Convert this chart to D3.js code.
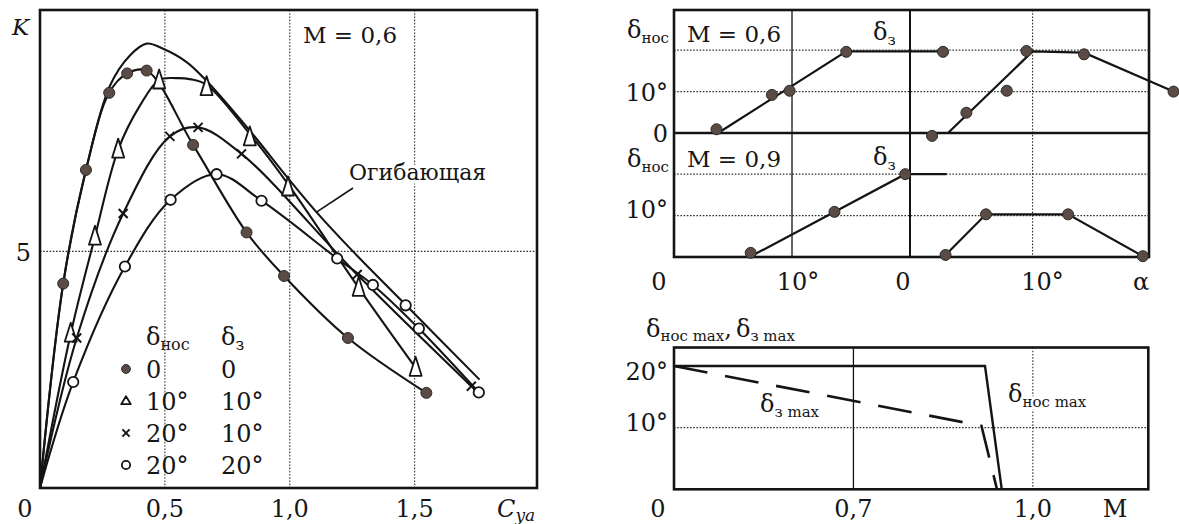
<!DOCTYPE html>
<html>
<head>
<meta charset="utf-8">
<script src="https://cdn.jsdelivr.net/npm/d3@7"></script>
<style>
  body { margin: 0; background: #fff; }
  text { font-family: "DejaVu Serif", "Liberation Serif", serif; fill: #161616; }
</style>
</head>
<body>
<svg id="chart" width="1179" height="524"></svg>
<script>
// ---- K(Cya) at M = 0.6 ----
const kTicksX = [0.5, 1.0, 1.5];
const kTickLabelsX = ['0,5', '1,0', '1,5'];
const kTicksY = [5];

const dotPts = [[0.093, 4.32], [0.184, 6.72], [0.277, 8.35], [0.349, 8.76], [0.427, 8.82],
  [0.613, 7.25], [0.827, 5.40], [0.977, 4.48], [1.233, 3.17], [1.547, 2.01]];
const dotCurve = [[0, 0], [0.093, 4.32], [0.184, 6.72], [0.277, 8.35], [0.349, 8.76], [0.427, 8.82],
  [0.613, 7.25], [0.827, 5.40], [0.977, 4.48], [1.233, 3.17], [1.547, 2.01]];

const triPts = [[0.123, 3.26], [0.22, 5.31], [0.313, 7.15], [0.477, 8.61], [0.667, 8.47],
  [0.84, 7.41], [0.993, 6.35], [1.276, 4.23], [1.504, 2.54]];
const triCurve = [[0, 0], [0.123, 3.26], [0.22, 5.31], [0.313, 7.15], [0.40, 8.08], [0.477, 8.62],
  [0.547, 8.66], [0.6, 8.64], [0.667, 8.52], [0.84, 7.48], [0.993, 6.42], [1.276, 4.23], [1.504, 2.54]];

const crossPts = [[0.147, 3.17], [0.333, 5.8], [0.52, 7.43], [0.633, 7.62], [0.807, 7.06],
  [1.27, 4.51], [1.727, 2.15]];
const crossCurve = [[0, 0], [0.147, 3.17], [0.333, 5.8], [0.52, 7.43], [0.633, 7.62], [0.807, 7.06],
  [1.27, 4.51], [1.727, 2.15]];

const ringPts = [[0.133, 2.24], [0.34, 4.68], [0.523, 6.09], [0.707, 6.63], [0.887, 6.07],
  [1.19, 4.85], [1.333, 4.29], [1.464, 3.86], [1.517, 3.37], [1.757, 2.02]];
const ringCurve = [[0, 0], [0.133, 2.24], [0.34, 4.68], [0.523, 6.09], [0.707, 6.63], [0.887, 6.07],
  [1.19, 4.85], [1.333, 4.29], [1.517, 3.37], [1.757, 2.02]];

const envelopeCurve = [[0, 0], [0.093, 4.32], [0.184, 6.72], [0.28, 8.5], [0.36, 9.14], [0.427, 9.39],
  [0.493, 9.28], [0.587, 9.0], [0.66, 8.64], [0.84, 7.55], [1.0, 6.5], [1.107, 5.83],
  [1.253, 5.0], [1.464, 3.87], [1.76, 2.29]];

const legendKinds = ['dot', 'tri', 'cross', 'ring'];
const legendNos = ['0', '10°', '20°', '20°'];
const legendZ = ['0', '10°', '10°', '20°'];

// ---- δ(α) at M = 0.6 and M = 0.9 ----
const alphaTicks = [0, 10];
const deltaTicks = [10, 20];
const nos06Pts = [[3.6, 0.9], [8.3, 9.2], [9.8, 10.2], [14.6, 19.6], [22.8, 19.6]];
const nos06Line = [[3.9, 0.3], [14.6, 19.7], [22.8, 19.7]];
const z06Pts = [[1.8, -0.7], [4.6, 4.9], [7.9, 10.2], [9.5, 19.8], [14.2, 19.0], [21.5, 10.0]];
const z06Line = [[3.1, 0], [10.0, 19.7], [14.2, 19.4], [21.5, 10.0]];
const nos09Pts = [[6.5, 1.0], [13.6, 10.9], [19.6, 20.0]];
const nos09Line = [[6.8, 0.6], [19.6, 20.0], [23.1, 20.0]];
const z09Pts = [[2.9, 0.5], [6.2, 10.3], [12.9, 10.3], [19.0, 0.2]];
const z09Line = [[2.9, 0.5], [6.2, 10.3], [12.9, 10.3], [19.0, 0.2]];

// ---- δmax(M) ----
const machTicks = [0.4, 0.7, 1.0];
const machTickLabels = ['0', '0,7', '1,0'];
const maxTicks = [10, 20];
const nosMaxLine = [[0.4, 20], [0.92, 20], [0.948, 0]];
const zMaxLine = [[0.4, 20], [0.914, 10.3], [0.94, 0]];

const svg = d3.select('#chart');
const ink = '#141414';
const dotFill = '#5b4b45';

function dotted(x1, y1, x2, y2) {
    svg.append('line')
        .attr('x1', x1).attr('y1', y1).attr('x2', x2).attr('y2', y2)
        .attr('stroke', '#333').attr('stroke-width', 1.1)
        .attr('stroke-dasharray', '1.6,1.6');
}

function solid(x1, y1, x2, y2, w) {
    svg.append('line')
        .attr('x1', x1).attr('y1', y1).attr('x2', x2).attr('y2', y2)
        .attr('stroke', ink).attr('stroke-width', w);
}

function frame(x0, y0, x1, y1) {
    svg.append('rect')
        .attr('x', x0).attr('y', y0).attr('width', x1 - x0).attr('height', y1 - y0)
        .attr('fill', 'none').attr('stroke', ink).attr('stroke-width', 2.6);
}

function text(x, y, str, size, anchor) {
    return svg.append('text')
        .attr('x', x).attr('y', y)
        .attr('font-size', size)
        .attr('text-anchor', anchor || 'start')
        .text(str);
}

// main symbol with a subscript, e.g. δ with "нос"
function withSub(x, y, main, sub, size, subSize, halo) {
    let t = svg.append('text')
        .attr('x', x).attr('y', y)
        .attr('font-size', size);
    t.append('tspan').text(main);
    t.append('tspan').attr('font-size', subSize).attr('dy', 5).text(sub);
    if(halo) {
        t.attr('stroke', '#fff').attr('stroke-width', 6)
            .attr('paint-order', 'stroke').attr('stroke-linejoin', 'round');
    }
    return t;
}

function marker(kind, cx, cy, s, tall) {
    if(kind === 'dot') {
        svg.append('circle').attr('cx', cx).attr('cy', cy).attr('r', 5.5 * s)
            .attr('fill', dotFill).attr('stroke', '#2a2a2a').attr('stroke-width', 1);
    } else if(kind === 'ring') {
        svg.append('circle').attr('cx', cx).attr('cy', cy).attr('r', 5.2 * s)
            .attr('fill', '#fff').attr('stroke', ink).attr('stroke-width', 1.8);
    } else if(kind === 'tri') {
        let h = tall ? 11 : 6;
        let b = tall ? 8 : 4;
        svg.append('path')
            .attr('d', `M${cx},${cy - h * s}L${cx + 6 * s},${cy + b * s}L${cx - 6 * s},${cy + b * s}Z`)
            .attr('fill', '#fff').attr('stroke', ink).attr('stroke-width', 1.8)
            .attr('stroke-linejoin', 'round');
    } else {
        let r = 4.5 * s;
        solid(cx - r, cy - r, cx + r, cy + r, 2);
        solid(cx - r, cy + r, cx + r, cy - r, 2);
    }
}

// ================= left chart =================
const kx = d3.scaleLinear().domain([0, 1.99]).range([40, 537]);
const ky = d3.scaleLinear().domain([0, 10.1]).range([488, 10]);

kTicksX.forEach(v => dotted(kx(v), ky(10.1), kx(v), ky(0)));
kTicksY.forEach(v => dotted(kx(0), ky(v), kx(1.99), ky(v)));

let smooth = d3.line()
    .x(d => kx(d[0])).y(d => ky(d[1]))
    .curve(d3.curveCatmullRom.alpha(0.5));

[envelopeCurve, dotCurve, triCurve, crossCurve, ringCurve].forEach(c => {
    svg.append('path')
        .attr('d', smooth(c))
        .attr('fill', 'none').attr('stroke', ink).attr('stroke-width', 2.1);
});

dotPts.forEach(d => marker('dot', kx(d[0]), ky(d[1]), 1));
triPts.forEach(d => marker('tri', kx(d[0]), ky(d[1]), 1, true));
crossPts.forEach(d => marker('cross', kx(d[0]), ky(d[1]), 1));
ringPts.forEach(d => marker('ring', kx(d[0]), ky(d[1]), 1));

frame(kx(0), ky(10.1), kx(1.99), ky(0));

// labels
svg.append('text').attr('x', 12).attr('y', 35).attr('font-size', 23)
    .attr('font-style', 'italic').text('K');
text(31, 261, '5', 24, 'end');
text(25, 517, '0', 24, 'middle');
kTicksX.forEach((v, i) => text(kx(v), 517, kTickLabelsX[i], 24, 'middle'));
let cya = svg.append('text').attr('x', 497).attr('y', 517)
    .attr('font-size', 24).attr('font-style', 'italic');
cya.append('tspan').text('C');
cya.append('tspan').attr('font-size', 17).attr('dy', 4).text('ya');
text(303, 43, 'M = 0,6', 23);

// envelope label + leader
solid(kx(1.107), ky(5.83), 353, 188, 1.6);
text(349, 180, 'Огибающая', 22)
    .attr('stroke', '#fff').attr('stroke-width', 7)
    .attr('paint-order', 'stroke').attr('stroke-linejoin', 'round');

// legend
withSub(146, 345, 'δ', 'нос', 24, 16);
withSub(221, 345, 'δ', 'з', 24, 16);
legendKinds.forEach((k, i) => {
    let base = 378 + i * 32;
    marker(k, 126, base - 9, 0.8, false);
    text(146, base, legendNos[i], 24);
    text(221, base, legendZ[i], 24);
});

// ================= upper right: δ(α) =================
const xNos = d3.scaleLinear().domain([0, 20]).range([674, 910]);
const xZ = d3.scaleLinear().domain([0, 19.5]).range([910, 1149]);
const yTop = d3.scaleLinear().domain([0, 29.7]).range([133, 10]);
const yBot = d3.scaleLinear().domain([0, 29.7]).range([257, 134]);

[yTop, yBot].forEach(y => {
    deltaTicks.forEach(v => dotted(674, y(v), 1149, y(v)));
});
solid(xNos(10), 10, xNos(10), 257, 1.3);
dotted(xZ(10), 10, xZ(10), 257);
solid(xZ(0), 10, xZ(0), 257, 2);
solid(674, yTop(0), 1149, yTop(0), 2.6);

let straight = (xs, ys) => d3.line().x(d => xs(d[0])).y(d => ys(d[1]));

[[nos06Line, xNos, yTop], [z06Line, xZ, yTop], [nos09Line, xNos, yBot], [z09Line, xZ, yBot]]
    .forEach(([data, xs, ys]) => {
        svg.append('path')
            .attr('d', straight(xs, ys)(data))
            .attr('fill', 'none').attr('stroke', ink).attr('stroke-width', 2.2);
    });

frame(674, 10, 1149, 257);

[[nos06Pts, xNos, yTop], [z06Pts, xZ, yTop], [nos09Pts, xNos, yBot], [z09Pts, xZ, yBot]]
    .forEach(([data, xs, ys]) => {
        data.forEach(d => marker('dot', xs(d[0]), ys(d[1]), 1));
    });

withSub(627, 38, 'δ', 'нос', 24, 15);
withSub(627, 167, 'δ', 'нос', 24, 15);
text(687, 42, 'M = 0,6', 23);
text(687, 167, 'M = 0,9', 23);
withSub(873, 40, 'δ', 'з', 24, 15);
withSub(873, 165, 'δ', 'з', 24, 15);
text(668, yTop(10) + 9, '10°', 24, 'end');
text(668, yTop(0) + 9, '0', 24, 'end');
text(668, yBot(10) + 2, '10°', 24, 'end');

text(xNos(0) - 15, 290, '0', 24, 'middle');
text(xNos(10) + 6, 290, '10°', 24, 'middle');
text(xZ(0) - 7, 290, '0', 24, 'middle');
text(xZ(10) + 10, 290, '10°', 24, 'middle');
text(1141, 290, 'α', 24, 'middle');

// ================= bottom right: δmax(M) =================
const xM = d3.scaleLinear().domain([0.4, 1.193]).range([674, 1148.3]);
const yM = d3.scaleLinear().domain([0, 23]).range([489.3, 347.5]);

maxTicks.filter(v => v === 10).forEach(v => dotted(674, yM(v), 1148.3, yM(v)));
solid(xM(0.7), yM(23), xM(0.7), yM(0), 1.3);
dotted(xM(1.0), yM(23), xM(1.0), yM(0));

let mline = d3.line().x(d => xM(d[0])).y(d => yM(d[1]));
svg.append('path').attr('d', mline(nosMaxLine))
    .attr('fill', 'none').attr('stroke', ink).attr('stroke-width', 2.4);
svg.append('path').attr('d', mline(zMaxLine))
    .attr('fill', 'none').attr('stroke', ink).attr('stroke-width', 2.6)
    .attr('stroke-dasharray', '34,18');

frame(674, 347.5, 1148.3, 489.3);

let ttl = svg.append('text').attr('x', 646).attr('y', 337).attr('font-size', 24);
ttl.append('tspan').text('δ');
ttl.append('tspan').attr('font-size', 15).attr('dy', 4).text('нос max');
ttl.append('tspan').attr('dy', -4).text(',');
ttl.append('tspan').attr('dx', 4).text('δ');
ttl.append('tspan').attr('font-size', 15).attr('dy', 4).text('з max');

text(668, yM(20) + 14, '20°', 24, 'end');
text(668, yM(10) + 3, '10°', 24, 'end');
machTicks.forEach((v, i) => text(xM(v) - (i === 0 ? 16 : 0), 517, machTickLabels[i], 24, 'middle'));
text(1115, 517, 'M', 24, 'middle');

withSub(760, 412, 'δ', 'з max', 24, 15, true);
withSub(1008, 402, 'δ', 'нос max', 24, 15, true);
</script>
</body>
</html>
